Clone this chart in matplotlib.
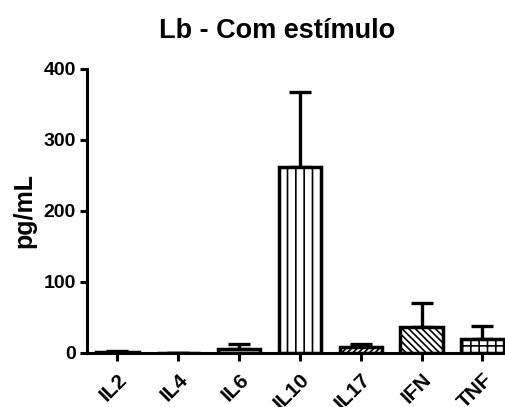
import numpy as np
import matplotlib.pyplot as plt
from matplotlib.transforms import ScaledTranslation

plt.rcParams["font.family"] = ["Liberation Sans", "DejaVu Sans"]
plt.rcParams["font.weight"] = "bold"
plt.rcParams["hatch.linewidth"] = 1.2

CYTOKINES = ["IL2", "IL4", "IL6", "IL10", "IL17", "IFN", "TNF"]
MEANS = [1.5, 0, 6, 262, 9, 36, 20]
SD = [1.5, 0, 6, 105, 4, 34, 18]
HATCHES = ["", "", "", "||", "//////", "\\\\\\\\\\", "++"]


def main():
    fig = plt.figure(figsize=(5.06, 4.07), dpi=100)
    ax = fig.add_axes([0.172, 0.1327, 0.826, 0.6978])

    x = np.arange(len(CYTOKINES))
    lower = np.zeros(len(SD))
    ax.errorbar(x, MEANS, yerr=[lower, SD], fmt="none", ecolor="black",
                elinewidth=2.4, capsize=8, capthick=2.4, zorder=1)
    ax.bar(x, MEANS, width=0.7, color="white", edgecolor="black",
           linewidth=2.5, hatch=HATCHES, zorder=2)

    ax.set_xlim(-0.5, 6.37)
    ax.set_ylim(0, 400)
    ax.set_yticks([0, 100, 200, 300, 400])
    ax.set_xticks(x)
    ax.set_xticklabels(CYTOKINES, rotation=45, ha="right", va="top",
                       rotation_mode="anchor", fontsize=15, fontweight="bold")
    shift = ScaledTranslation(-0.03, -0.01, fig.dpi_scale_trans)
    for lbl in ax.get_xticklabels():
        lbl.set_transform(lbl.get_transform() + shift)
    for lbl in ax.get_yticklabels():
        lbl.set_fontsize(14)
        lbl.set_fontweight("bold")

    for side in ["top", "right"]:
        ax.spines[side].set_visible(False)
    for side in ["left", "bottom"]:
        ax.spines[side].set_linewidth(2.2)
    ax.tick_params(axis="both", direction="out", width=2.2, length=5, pad=3)
    ax.tick_params(axis="x", length=6, pad=6)

    ax.set_ylabel("pg/mL", fontsize=18, fontweight="bold", labelpad=5)
    ax.set_title("Lb - Com estímulo", fontsize=19.5, fontweight="bold",
                 x=0.455, pad=22.5)

    fig.savefig("out.png", dpi=100)


if __name__ == "__main__":
    main()
